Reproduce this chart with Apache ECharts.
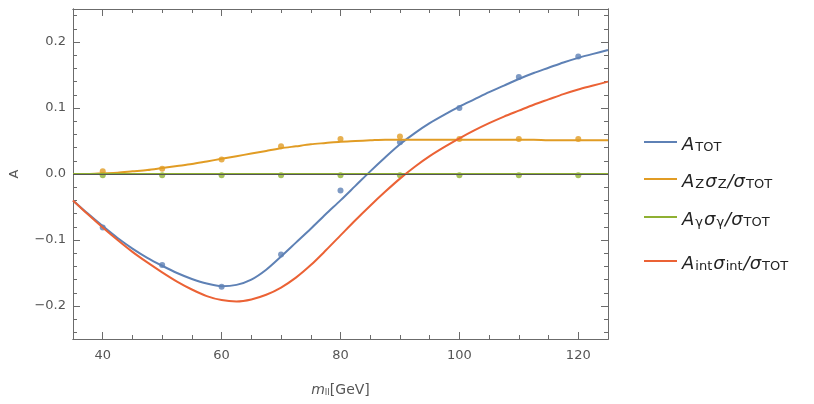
<!DOCTYPE html>
<html lang="en">
<head>
<meta charset="UTF-8">
<title>A vs mll</title>
<script src="https://cdn.jsdelivr.net/npm/echarts@6/dist/echarts.min.js"></script>
<style>
    html, body { margin: 0; padding: 0; background: #fff; }
    #chart { width: 814px; height: 404px; }
</style>
</head>
<body>
<div id="chart"></div>
<script>
    // curve samples (GeV)
    var massCurve = [35, 37.5, 40, 42.5, 45, 47.5, 50, 52.5, 55, 57.5, 60, 62.5, 65, 67.5, 70, 72.5, 75, 77.5, 80,
                     82.5, 85, 87.5, 90, 92.5, 95, 97.5, 100, 102.5, 105, 107.5, 110, 112.5, 115, 117.5, 120, 122.5, 125];
    var totCurve  = [-0.040, -0.060, -0.079, -0.097, -0.113, -0.127, -0.139, -0.150, -0.159, -0.166, -0.170, -0.168, -0.160,
                     -0.145, -0.125, -0.104, -0.083, -0.061, -0.040, -0.018, 0.004, 0.025, 0.045, 0.062, 0.077, 0.090, 0.102,
                     0.113, 0.124, 0.134, 0.144, 0.153, 0.161, 0.169, 0.176, 0.182, 0.188];
    var zCurve    = [0.000, 0.000, 0.001, 0.002, 0.004, 0.006, 0.009, 0.012, 0.015, 0.019, 0.023, 0.027, 0.031, 0.035, 0.039,
                     0.042, 0.045, 0.047, 0.049, 0.050, 0.051, 0.052, 0.052, 0.052, 0.052, 0.052, 0.052, 0.052, 0.052, 0.052,
                     0.052, 0.052, 0.051, 0.051, 0.051, 0.051, 0.051];
    var gCurve    = [0, 0, 0, 0, 0, 0, 0, 0, 0, 0, 0, 0, 0, 0, 0, 0, 0, 0, 0,
                     0, 0, 0, 0, 0, 0, 0, 0, 0, 0, 0, 0, 0, 0, 0, 0, 0, 0];
    var intCurve  = [-0.040, -0.061, -0.081, -0.100, -0.118, -0.134, -0.149, -0.163, -0.175, -0.185, -0.191, -0.193, -0.190,
                     -0.183, -0.172, -0.157, -0.138, -0.116, -0.093, -0.070, -0.048, -0.027, -0.007, 0.011, 0.027, 0.041, 0.054,
                     0.066, 0.077, 0.087, 0.096, 0.105, 0.113, 0.121, 0.128, 0.134, 0.140];

    // simulated points
    var massPts = [40, 50, 60, 70, 80, 90, 100, 110, 120];
    var totPts  = [-0.081, -0.138, -0.171, -0.122, -0.025, 0.048, 0.100, 0.147, 0.178];
    var zPts    = [0.004, 0.008, 0.022, 0.042, 0.053, 0.057, 0.053, 0.053, 0.053];
    var gPts    = [-0.002, -0.002, -0.002, -0.002, -0.002, -0.002, -0.002, -0.002, -0.002];

    // ticks
    var xMajor = [40, 60, 80, 100, 120];
    var xMinor = [45, 50, 55, 65, 70, 75, 85, 90, 95, 105, 110, 115];
    var yMajor = [-0.2, -0.1, 0, 0.1, 0.2];
    var yMinor = [-0.24, -0.22, -0.18, -0.16, -0.14, -0.12, -0.08, -0.06, -0.04, -0.02,
                  0.02, 0.04, 0.06, 0.08, 0.12, 0.14, 0.16, 0.18, 0.22, 0.24];

    var BLUE = '#5e81b5', YELLOW = '#e19c24', GREEN = '#8fb032', RED = '#eb6235';
    var FRAME = '#6b6b6b', LABEL = '#555';
    var FONT = 'DejaVu Sans';

    function pairs(xs, ys) {
        return xs.map(function (x, i) { return [x, ys[i]]; });
    }

    var legendNames = {
        tot: '{a|A}{s|TOT}',
        z:   '{a|A}{s|Z}{a|σ}{s|Z}{a|/σ}{s|TOT}',
        g:   '{a|A}{s|γ}{a|σ}{s|γ}{a|/σ}{s|TOT}',
        int: '{a|A}{s|int}{a|σ}{s|int}{a|/σ}{s|TOT}'
    };
    var legendRich = {
        a: { fontSize: 18, fontStyle: 'italic', fontFamily: FONT, color: '#222', lineHeight: 24, verticalAlign: 'bottom' },
        s: { fontSize: 13, fontFamily: FONT, color: '#222', lineHeight: 13, verticalAlign: 'bottom', padding: [0, 1, 0, 1] }
    };
    function legendAt(name, top) {
        return {
            data: [name], left: 639, top: top,
            icon: 'rect', itemWidth: 33, itemHeight: 2, itemGap: 12,
            selectedMode: false,
            formatter: function (n) { return legendNames[n]; },
            textStyle: { rich: legendRich }
        };
    }

    function xAxisDef(pos, ticks, len, labels) {
        return {
            type: 'value', min: 35, max: 125, position: pos,
            axisLine: { show: true, onZero: false, lineStyle: { color: FRAME, width: 1 } },
            axisTick: { show: true, inside: true, length: len, customValues: ticks, lineStyle: { color: FRAME } },
            axisLabel: labels ? { show: true, customValues: xMajor, color: LABEL, fontSize: 13, fontFamily: FONT, margin: 10 } : { show: false },
            splitLine: { show: false }
        };
    }
    function yAxisDef(pos, ticks, len, labels) {
        return {
            type: 'value', min: -0.25, max: 0.25, position: pos,
            axisLine: { show: true, onZero: false, lineStyle: { color: FRAME, width: 1 } },
            axisTick: { show: true, inside: true, length: len, customValues: ticks, lineStyle: { color: FRAME } },
            axisLabel: labels ? {
                show: true, customValues: yMajor, color: LABEL, fontSize: 13, fontFamily: FONT, margin: 7,
                formatter: function (v) { return (v < 0 ? '\u2212' : '') + Math.abs(v).toFixed(1); }
            } : { show: false },
            splitLine: { show: false }
        };
    }

    var xMain = xAxisDef('bottom', xMajor, 7, true);
    xMain.name = '{m|m}{s|ll}{t|[GeV]}';
    xMain.nameLocation = 'middle';
    xMain.nameGap = 40;
    xMain.nameTextStyle = {
        rich: {
            m: { fontSize: 14, fontStyle: 'italic', fontFamily: FONT, color: LABEL, lineHeight: 18, verticalAlign: 'bottom' },
            s: { fontSize: 9, fontFamily: FONT, color: LABEL, lineHeight: 10, verticalAlign: 'bottom' },
            t: { fontSize: 14, fontFamily: FONT, color: LABEL, lineHeight: 18, verticalAlign: 'bottom' }
        }
    };
    var yMain = yAxisDef('left', yMajor, 7, true);
    yMain.name = 'A';
    yMain.nameLocation = 'middle';
    yMain.nameGap = 52;
    yMain.nameTextStyle = { fontSize: 13, fontFamily: FONT, color: LABEL };

    var curveSeries = function (name, ys, color, z) {
        return {
            name: name, type: 'line', data: pairs(massCurve, ys), smooth: 0.3,
            showSymbol: false, symbol: 'none', z: z,
            lineStyle: { color: color, width: 2 }, itemStyle: { color: color }
        };
    };
    var pointSeries = function (ys, color) {
        return {
            type: 'scatter', data: pairs(massPts, ys), symbolSize: 6, z: 1,
            itemStyle: { color: color }
        };
    };

    var gLine = curveSeries('g', gCurve, GREEN, 3);
    gLine.markLine = {
        silent: true, symbol: 'none', label: { show: false },
        lineStyle: { color: '#555', width: 1, type: 'solid' },
        data: [{ yAxis: 0 }]
    };

    var option = {
        animation: false,
        backgroundColor: '#fff',
        grid: { left: 73, top: 9, right: 206, bottom: 65 },
        legend: [legendAt('tot', 131), legendAt('z', 168), legendAt('g', 206), legendAt('int', 250)],
        xAxis: [
            xMain,
            xAxisDef('bottom', xMinor, 4, false),
            xAxisDef('top', xMajor, 7, false),
            xAxisDef('top', xMinor, 4, false)
        ],
        yAxis: [
            yMain,
            yAxisDef('left', yMinor, 4, false),
            yAxisDef('right', yMajor, 7, false),
            yAxisDef('right', yMinor, 4, false)
        ],
        series: [
            pointSeries(totPts, BLUE),
            pointSeries(zPts, YELLOW),
            pointSeries(gPts, GREEN),
            curveSeries('tot', totCurve, BLUE, 3),
            curveSeries('z', zCurve, YELLOW, 3),
            gLine,
            curveSeries('int', intCurve, RED, 3)
        ]
    };

    var myChart = echarts.init(document.getElementById('chart'));
    myChart.setOption(option);
</script>
</body>
</html>
